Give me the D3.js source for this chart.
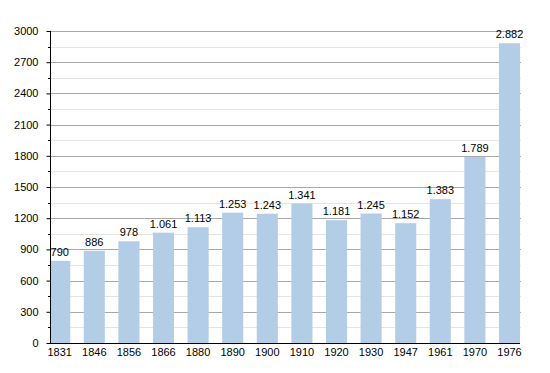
<!DOCTYPE html>
<html>
<head>
<meta charset="utf-8">
<style>
body { margin: 0; background: #fff; }
text { font-family: "Liberation Sans", Arial, sans-serif; fill: #000; }
</style>
</head>
<body>
<svg width="550" height="373"></svg>
<script src="https://cdn.jsdelivr.net/npm/d3@7"></script>
<script>
// population by census year
let years = ['1831', '1846', '1856', '1866', '1880', '1890', '1900', '1910', '1920', '1930', '1947', '1961', '1970', '1976'];
let population = [790, 886, 978, 1061, 1113, 1253, 1243, 1341, 1181, 1245, 1152, 1383, 1789, 2882];
let yTicks = [0, 300, 600, 900, 1200, 1500, 1800, 2100, 2400, 2700, 3000];
let yMinor = [150, 450, 750, 1050, 1350, 1650, 1950, 2250, 2550, 2850];

let svg = d3.select('svg');
let plotLeft = 50, plotRight = 520, plotTop = 31, plotBottom = 343;

let x = d3.scaleBand()
	.domain(years)
	.range([42.4, 526.8])
	.paddingInner(0.39)
	.paddingOuter(0.195);

let y = d3.scaleLinear()
	.domain([0, 3000])
	.range([plotBottom, plotTop]);

// thousands with a dot
let fmt = d => d3.format(',')(d).replace(/,/g, '.');

svg.append('clipPath').attr('id', 'plot')
	.append('rect')
	.attr('x', plotLeft + 1).attr('y', 0)
	.attr('width', plotRight - plotLeft + 10).attr('height', plotBottom);

// grid
svg.append('g').selectAll('line')
	.data(yMinor)
	.join('line')
	.attr('x1', plotLeft).attr('x2', plotRight + 1)
	.attr('y1', d => Math.round(y(d)) + 0.5)
	.attr('y2', d => Math.round(y(d)) + 0.5)
	.attr('stroke', '#e4e4e4');

svg.append('g').selectAll('line')
	.data(yTicks.slice(1))
	.join('line')
	.attr('x1', plotLeft).attr('x2', plotRight + 1)
	.attr('y1', d => Math.round(y(d)) + 0.5)
	.attr('y2', d => Math.round(y(d)) + 0.5)
	.attr('stroke', '#a8a8a8');

// bars
svg.append('g')
	.attr('clip-path', 'url(#plot)')
	.selectAll('rect')
	.data(population)
	.join('rect')
	.attr('x', (d, i) => x(years[i]))
	.attr('y', d => y(d))
	.attr('width', x.bandwidth())
	.attr('height', d => plotBottom - y(d))
	.attr('fill', '#b3cde7');

// value labels
svg.append('g').selectAll('text')
	.data(population)
	.join('text')
	.attr('x', (d, i) => x(years[i]) + x.bandwidth() / 2)
	.attr('y', d => y(d) - 5)
	.attr('text-anchor', 'middle')
	.attr('font-size', 11)
	.text(d => fmt(d));

// y axis
let yAxis = svg.append('g')
	.attr('transform', 'translate(' + (plotLeft + 0.5) + ',0)')
	.call(d3.axisLeft(y).tickValues(yTicks).tickSize(4).tickPadding(8).tickFormat(d3.format('d')));
yAxis.selectAll('.tick text').attr('font-size', 11).attr('font-family', '"Liberation Sans", Arial, sans-serif').attr('fill', '#000');
yAxis.selectAll('.tick line').attr('stroke', '#000');
yAxis.select('.domain').attr('d', 'M0,' + plotTop + 'V' + (plotBottom + 0.5)).attr('stroke', '#000');

svg.append('g').selectAll('line')
	.data(yMinor)
	.join('line')
	.attr('x1', plotLeft - 2).attr('x2', plotLeft)
	.attr('y1', d => Math.round(y(d)) + 0.5)
	.attr('y2', d => Math.round(y(d)) + 0.5)
	.attr('stroke', '#000');

// x axis
let xAxis = svg.append('g')
	.attr('transform', 'translate(0,' + (plotBottom + 0.5) + ')')
	.call(d3.axisBottom(x).tickSize(0).tickPadding(5));
xAxis.selectAll('.tick text').attr('font-size', 11).attr('font-family', '"Liberation Sans", Arial, sans-serif').attr('fill', '#000');
xAxis.select('.domain').attr('d', 'M' + plotLeft + ',0H' + plotRight).attr('stroke', '#000');
</script>
</body>
</html>
